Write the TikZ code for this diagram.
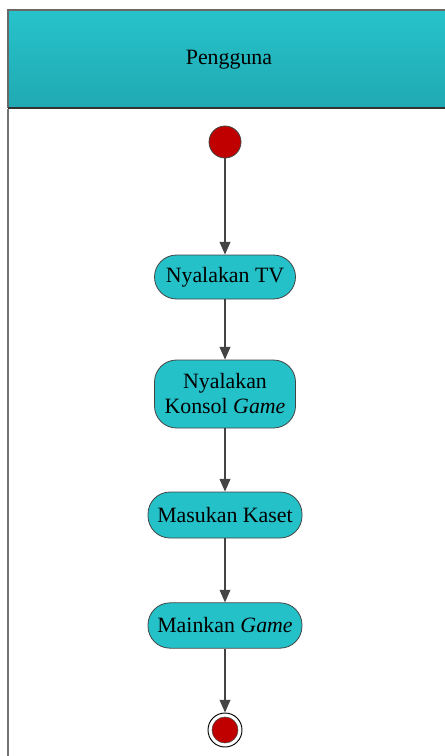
\documentclass[tikz,border=0pt]{standalone}
\usepackage{fontspec}
\setmainfont{Liberation Serif}
\usetikzlibrary{arrows.meta,shapes.misc}
\definecolor{teal1}{HTML}{26C3CB}
\definecolor{teal2}{HTML}{21A9B2}
\definecolor{boxfill}{HTML}{25C1C9}
\definecolor{startred}{HTML}{C00000}
\definecolor{linegray}{HTML}{444444}
\tikzset{
  px/.style={x=0.75pt,y=-0.75pt},
  action/.style={draw=linegray,line width=0.6pt,fill=boxfill,rounded corners=16.5pt,
    align=center,inner sep=0pt,font=\fontsize{16.4}{18.75}\selectfont},
  flow/.style={draw=linegray,line width=1.2pt,-{Triangle[width=8pt,length=9.5pt]}},
}
\begin{document}
\begin{tikzpicture}[px]
\useasboundingbox (0,0) rectangle (444,756);
% header
\shade[top color=teal1,bottom color=teal2] (8,10) rectangle (460,108);
\draw[draw=linegray!80,line width=1.2pt] (460,10) -- (8,10) -- (8,108);
\draw[draw=black!80,line width=2.2pt] (8,108) -- (460,108);
\node[font=\fontsize{16.4}{18.75}\selectfont] (hdr) at (229,60) {Pengguna};
% swimlane left border
\draw[draw=black!55,line width=1.6pt] (8,109) -- (8,760);
% start
\node[circle,draw=linegray,line width=0.6pt,fill=startred,minimum size=24pt,inner sep=0pt] (start) at (225,142) {};
% actions
\node[action,minimum width=105.75pt,minimum height=33pt] (a1) at (225,277) {Nyalakan TV};
\node[action,minimum width=105.75pt,minimum height=51pt] (a2) at (225,394) {Nyalakan\\Konsol \textit{Game}};
\node[action,minimum width=115.5pt,minimum height=34.5pt] (a3) at (225,515) {Masukan Kaset};
\node[action,minimum width=115.5pt,minimum height=34pt] (a4) at (225,625.5) {Mainkan \textit{Game}};
% end
\node[circle,draw=black,line width=0.7pt,fill=white,minimum size=25.5pt,inner sep=0pt] (end) at (225,730) {};
\node[circle,fill=startred,draw=linegray,line width=0.4pt,minimum size=19.5pt,inner sep=0pt] (endin) at (225,730) {};
% flows
\draw[flow] (start) -- (a1);
\draw[flow] (a1) -- (a2);
\draw[flow] (a2) -- (a3);
\draw[flow] (a3) -- (a4);
\draw[flow] (a4) -- (end);
\end{tikzpicture}
\end{document}
